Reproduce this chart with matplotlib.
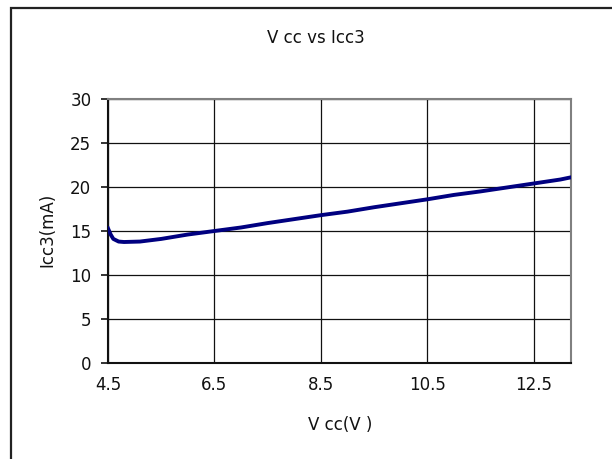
#%% Imports:

import matplotlib.pyplot as plt
from matplotlib.patches import Rectangle

#%% Data:

vcc = [4.5, 4.55, 4.6, 4.7, 4.8, 5.1, 5.5, 6.0, 6.5, 7.0, 7.5, 8.0,
       8.5, 9.0, 9.5, 10.0, 10.5, 11.0, 11.5, 12.0, 12.5, 13.0, 13.2]
icc3 = [15.3, 14.6, 14.1, 13.8, 13.75, 13.8, 14.1, 14.6, 15.0, 15.4,
        15.9, 16.35, 16.8, 17.2, 17.7, 18.15, 18.6, 19.1, 19.5, 19.95,
        20.4, 20.85, 21.1]

x_ticks = [4.5, 6.5, 8.5, 10.5, 12.5]
x_tick_labels = ['4.5', '6.5', '8.5', '10.5', '12.5']
y_ticks = [0, 5, 10, 15, 20, 25, 30]

#%% Plotting:

plt.rcParams['font.family'] = ['DejaVu Sans']
fs = 12

W, H = 612, 459
fig = plt.figure(figsize=(W/100, H/100), dpi=100)

# Outer chart border (cut at right/bottom edge in the original)
fig.patches.append(Rectangle((11/W, -0.1), 1.2, 1 - 8/H + 0.1,
                             transform=fig.transFigure, fill=False,
                             edgecolor='#222222', linewidth=1.6))

ax = fig.add_axes([108/W, 1 - 363/H, (571 - 108)/W, (363 - 99)/H])
ax.plot(vcc, icc3, color='#000080', linewidth=2.8, zorder=3)

ax.set_xlim(4.5, 13.2)
ax.set_ylim(0, 30)
ax.set_xticks(x_ticks)
ax.set_xticklabels(x_tick_labels)
ax.set_yticks(y_ticks)
ax.tick_params(axis='x', length=0, pad=9, labelsize=fs, colors='#111111')
ax.tick_params(axis='y', length=5, width=1.2, pad=7, labelsize=fs,
               colors='#111111')

ax.grid(True, color='#111111', linewidth=0.9)
ax.set_axisbelow(True)

for s in ['left', 'bottom']:
    ax.spines[s].set_color('#111111')
    ax.spines[s].set_linewidth(1.5)
for s in ['top', 'right']:
    ax.spines[s].set_color('#808080')
    ax.spines[s].set_linewidth(1.5)

fig.text(316/W, 1 - 38/H, 'V cc vs Icc3', ha='center', va='center',
         fontsize=fs, color='#111111')
fig.text(340/W, 1 - 425/H, 'V cc(V )', ha='center', va='center',
         fontsize=fs, color='#111111')
fig.text(47/W, 1 - 230/H, 'Icc3(mA)', ha='center', va='center',
         rotation=90, fontsize=fs, color='#111111')

fig.savefig('out.png', dpi=100)
